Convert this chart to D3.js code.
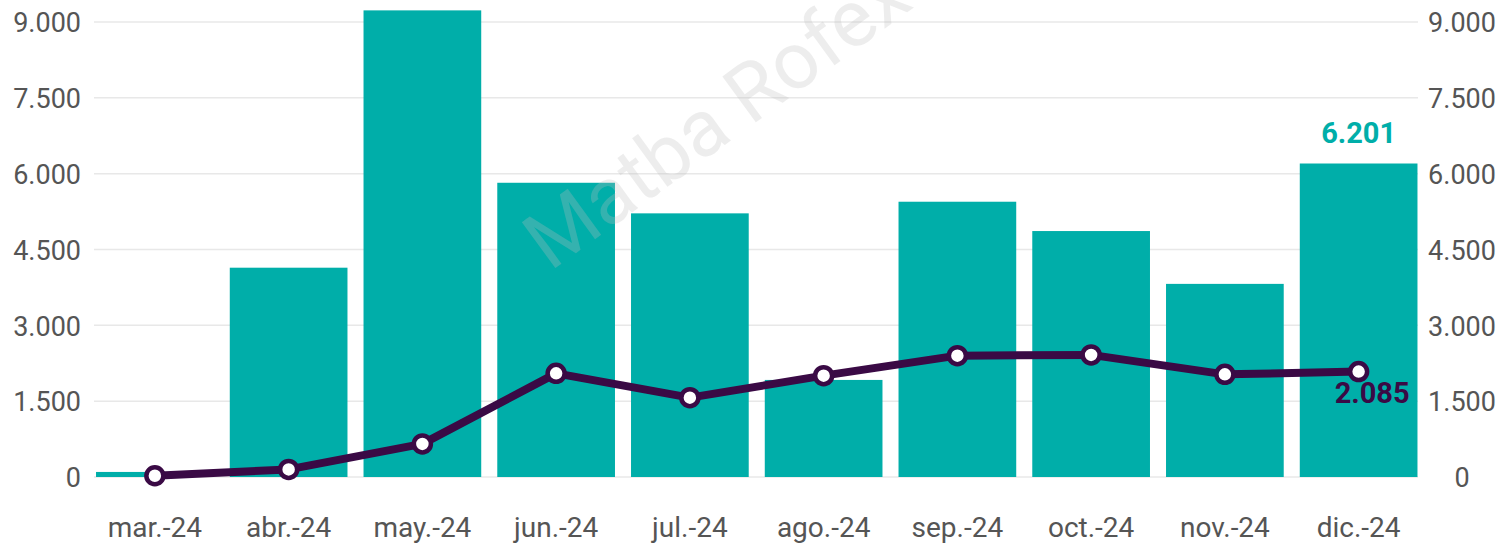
<!DOCTYPE html>
<html>
<head>
<meta charset="utf-8">
<script src="https://cdn.jsdelivr.net/npm/d3@7"></script>
<style>
  body { margin: 0; background: #fff; }
  svg { display: block; }
  svg text { font-family: Roboto, "Noto Sans", sans-serif; }
</style>
</head>
<body>
<svg id="chart" width="1504" height="544"></svg>
<script>
// months shown on the x axis
var months = ['mar.-24', 'abr.-24', 'may.-24', 'jun.-24', 'jul.-24', 'ago.-24', 'sep.-24', 'oct.-24', 'nov.-24', 'dic.-24'];
// bar series (teal)
var barValues = [100, 4140, 9230, 5820, 5215, 1920, 5445, 4865, 3820, 6201];
// line series (purple)
var lineValues = [25, 150, 655, 2050, 1570, 2005, 2400, 2415, 2030, 2085];
// ticks used on both axes
var tickValues = [0, 1500, 3000, 4500, 6000, 7500, 9000];

var teal = '#00aea9';
var purple = '#3a0a45';

var svg = d3.select('#chart');
var fmt = function(v) { return d3.format(',')(v).replace(/,/g, '.'); };

var x = d3.scaleBand()
    .domain(months)
    .range([88, 1425.5])
    .paddingInner(0.12)
    .paddingOuter(0.06);

var y = d3.scaleLinear()
    .domain([0, 9000])
    .range([477, 22]);

// gridlines
svg.append('g').selectAll('line')
    .data(tickValues)
    .enter()
    .append('line')
    .attr('x1', 94)
    .attr('x2', 1418)
    .attr('y1', function(d) { return y(d); })
    .attr('y2', function(d) { return y(d); })
    .attr('stroke', '#e8e8e8')
    .attr('stroke-width', 1.5);

// left axis
var leftAxis = svg.append('g')
    .attr('transform', 'translate(81,0)')
    .call(d3.axisLeft(y).tickValues(tickValues).tickFormat(fmt).tickSize(0).tickPadding(0));
leftAxis.select('.domain').remove();
leftAxis.selectAll('text')
    .attr('dy', '0.36em')
    .style('font-size', '27px')
    .attr('fill', '#555');

// right axis
var rightAxis = svg.append('g')
    .attr('transform', 'translate(1462,0)')
    .call(d3.axisRight(y).tickValues(tickValues).tickFormat(fmt).tickSize(0).tickPadding(0));
rightAxis.select('.domain').remove();
rightAxis.selectAll('text')
    .attr('text-anchor', 'middle')
    .attr('dy', '0.36em')
    .style('font-size', '27px')
    .attr('fill', '#555');

// x axis labels
var xAxis = svg.append('g')
    .attr('transform', 'translate(0,477)')
    .call(d3.axisBottom(x).tickSize(0).tickPadding(0));
xAxis.select('.domain').remove();
xAxis.selectAll('text')
    .attr('y', 60)
    .attr('dy', 0)
    .style('font-size', '28px')
    .attr('fill', '#555');

// bars
svg.append('g').selectAll('rect')
    .data(barValues)
    .enter()
    .append('rect')
    .attr('x', function(d, i) { return x(months[i]); })
    .attr('y', function(d) { return y(d); })
    .attr('width', x.bandwidth())
    .attr('height', function(d) { return y(0) - y(d); })
    .attr('fill', teal);

// watermark, drawn over the bars
svg.append('text')
    .attr('transform', 'translate(550,272) rotate(-36)')
    .style('font-size', '80px')
    .attr('fill', '#c0c0c0')
    .attr('fill-opacity', 0.28)
    .text('Matba Rofex');

var cx = function(i) { return x(months[i]) + x.bandwidth() / 2; };

// line
var line = d3.line()
    .x(function(d, i) { return cx(i); })
    .y(function(d) { return y(d); });

svg.append('path')
    .datum(lineValues)
    .attr('d', line)
    .attr('fill', 'none')
    .attr('stroke', purple)
    .attr('stroke-width', 8)
    .attr('stroke-linejoin', 'round');

svg.append('g').selectAll('circle')
    .data(lineValues)
    .enter()
    .append('circle')
    .attr('cx', function(d, i) { return cx(i); })
    .attr('cy', function(d) { return y(d); })
    .attr('r', 8.5)
    .attr('fill', '#fff')
    .attr('stroke', purple)
    .attr('stroke-width', 4.5);

// value labels on the last month
var last = months.length - 1;
svg.append('text')
    .attr('x', cx(last))
    .attr('y', y(barValues[last]) - 21)
    .attr('text-anchor', 'middle')
    .style('font-size', '29px')
    .style('font-weight', 'bold')
    .attr('fill', teal)
    .text(fmt(barValues[last]));

svg.append('text')
    .attr('x', cx(last) + 51)
    .attr('y', y(lineValues[last]) + 31)
    .attr('text-anchor', 'end')
    .style('font-size', '29px')
    .style('font-weight', 'bold')
    .attr('fill', purple)
    .text(fmt(lineValues[last]));
</script>
</body>
</html>
